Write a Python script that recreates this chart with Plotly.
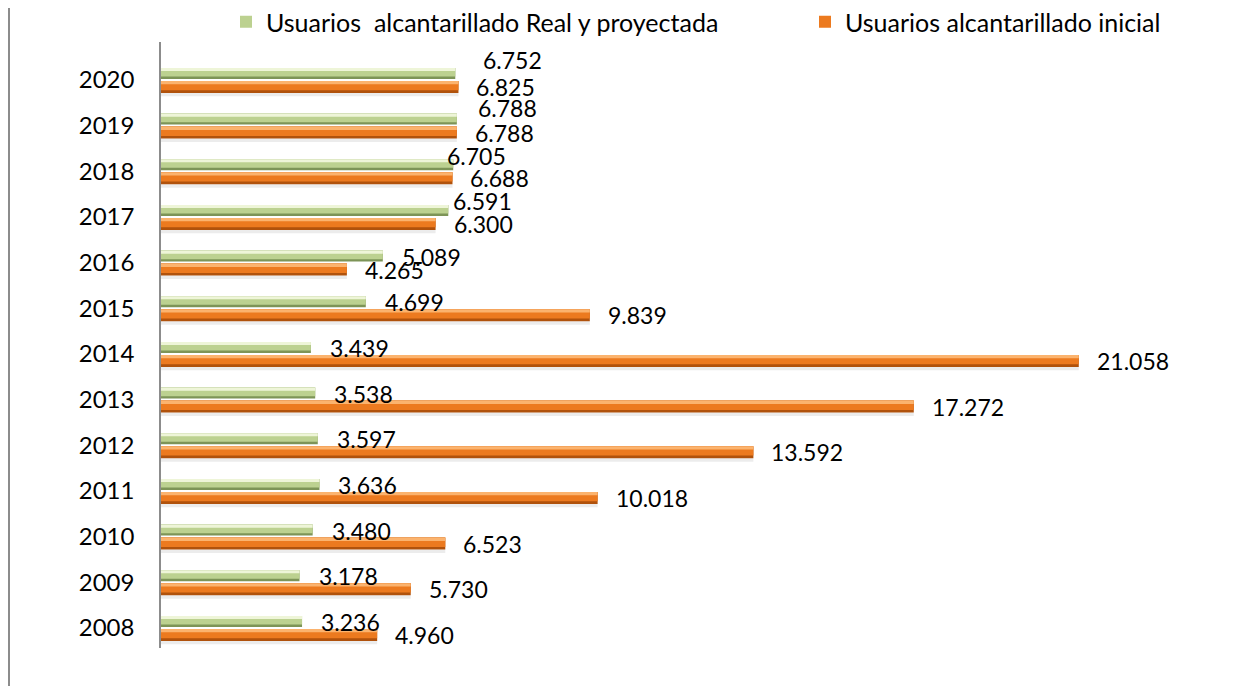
import plotly.graph_objects as go

# ---------------- data ----------------
years = ["2008", "2009", "2010", "2011", "2012", "2013", "2014",
         "2015", "2016", "2017", "2018", "2019", "2020"]
real_proyectada = [3236, 3178, 3480, 3636, 3597, 3538, 3439,
                   4699, 5089, 6591, 6705, 6788, 6752]
inicial = [4960, 5730, 6523, 10018, 13592, 17272, 21058,
           9839, 4265, 6300, 6688, 6788, 6825]
name_real = "Usuarios  alcantarillado Real y proyectada"
name_ini = "Usuarios alcantarillado inicial"

# ---------------- style ----------------
FONT = "Lato, 'Open Sans', sans-serif"
green = dict(dark="#7d9457", body="#bcd190", light="#eef5d8")
orange = dict(dark="#b0520c", body="#ec7a1f", light="#fbb36e")

# label nudges (pixels) for the manually placed labels of the original
green_nudge = {"2020": (9, 14), "2019": (2, 12), "2018": (-25, 9), "2017": (-14, 10)}

# the page body adds an 8 px margin; the figure is sized to fit inside the window
W, H = 1234, 678
ML, MT, PW, PH = 153, 34, 1046, 606


def fmt(v):
    return f"{v:,}".replace(",", ".")


fig = go.Figure()

# soft shadow under the lower (orange) bars
fig.add_trace(go.Bar(y=years, x=inicial, orientation="h", offset=-0.36, width=0.075,
                     marker=dict(color="#ececec", line=dict(width=0)),
                     showlegend=False, hoverinfo="skip"))


def add_series(vals, name, col, base, width, legend):
    # dark base (bottom edge)
    fig.add_trace(go.Bar(y=years, x=vals, orientation="h", offset=base, width=width,
                         marker=dict(color=col["dark"], line=dict(width=0)),
                         showlegend=False, hoverinfo="skip"))
    # main body
    fig.add_trace(go.Bar(y=years, x=vals, orientation="h", offset=base + width * 0.22,
                         width=width * 0.78, name=name, legend=legend,
                         marker=dict(color=col["body"], line=dict(width=0))))
    # top highlight
    fig.add_trace(go.Bar(y=years, x=vals, orientation="h", offset=base + width * 0.72,
                         width=width * 0.28,
                         marker=dict(color=col["light"], line=dict(width=0)),
                         showlegend=False, hoverinfo="skip"))


add_series(real_proyectada, name_real, green, 0.022, 0.241, "legend")
add_series(inicial, name_ini, orange, -0.285, 0.263, "legend2")

annotations = []
for i, (yr, v) in enumerate(zip(years, real_proyectada)):
    dx, dy = green_nudge.get(yr, (0, 0))
    annotations.append(dict(x=v, y=i, xref="x", yref="y", text=fmt(v), showarrow=False,
                            xanchor="left", yanchor="middle",
                            xshift=17 + dx, yshift=6 + dy,
                            font=dict(family=FONT, size=23, color="#000000")))
for i, (yr, v) in enumerate(zip(years, inicial)):
    annotations.append(dict(x=v, y=i, xref="x", yref="y", text=fmt(v), showarrow=False,
                            xanchor="left", yanchor="middle",
                            xshift=16, yshift=-7,
                            font=dict(family=FONT, size=23, color="#000000")))

leg_common = dict(orientation="h", yanchor="middle", y=1 - 14 / H,
                  xref="container", yref="container",
                  font=dict(family=FONT, size=25, color="#000000"),
                  bgcolor="rgba(0,0,0,0)", itemwidth=30)

fig.update_layout(
    width=W, height=H,
    margin=dict(l=ML, r=W - ML - PW, t=MT, b=H - MT - PH, autoexpand=False),
    paper_bgcolor="#ffffff", plot_bgcolor="#ffffff",
    barmode="overlay",
    font=dict(family=FONT, size=22, color="#000000"),
    annotations=annotations,
    showlegend=True,
    legend=dict(x=218 / W, xanchor="left", **leg_common),
    legend2=dict(x=797 / W, xanchor="left", **leg_common),
    xaxis=dict(range=[0, 24000], showticklabels=False, showgrid=False, zeroline=False,
               showline=False, ticks="", fixedrange=True),
    yaxis=dict(type="category", categoryorder="array", categoryarray=years,
               range=[-0.44, 12.83], showline=True, linecolor="#8c8c8c", linewidth=1.5,
               showgrid=False, zeroline=False, ticks="", ticklabelstandoff=20,
               tickfont=dict(family=FONT, size=24, color="#000000")),
    shapes=[dict(type="line", xref="paper", yref="paper",
                 x0=-(ML - 1) / PW, x1=-(ML - 1) / PW, y0=-0.2, y1=1.2,
                 line=dict(color="#8c8c8c", width=2))],
)

fig.write_html("out.html")
